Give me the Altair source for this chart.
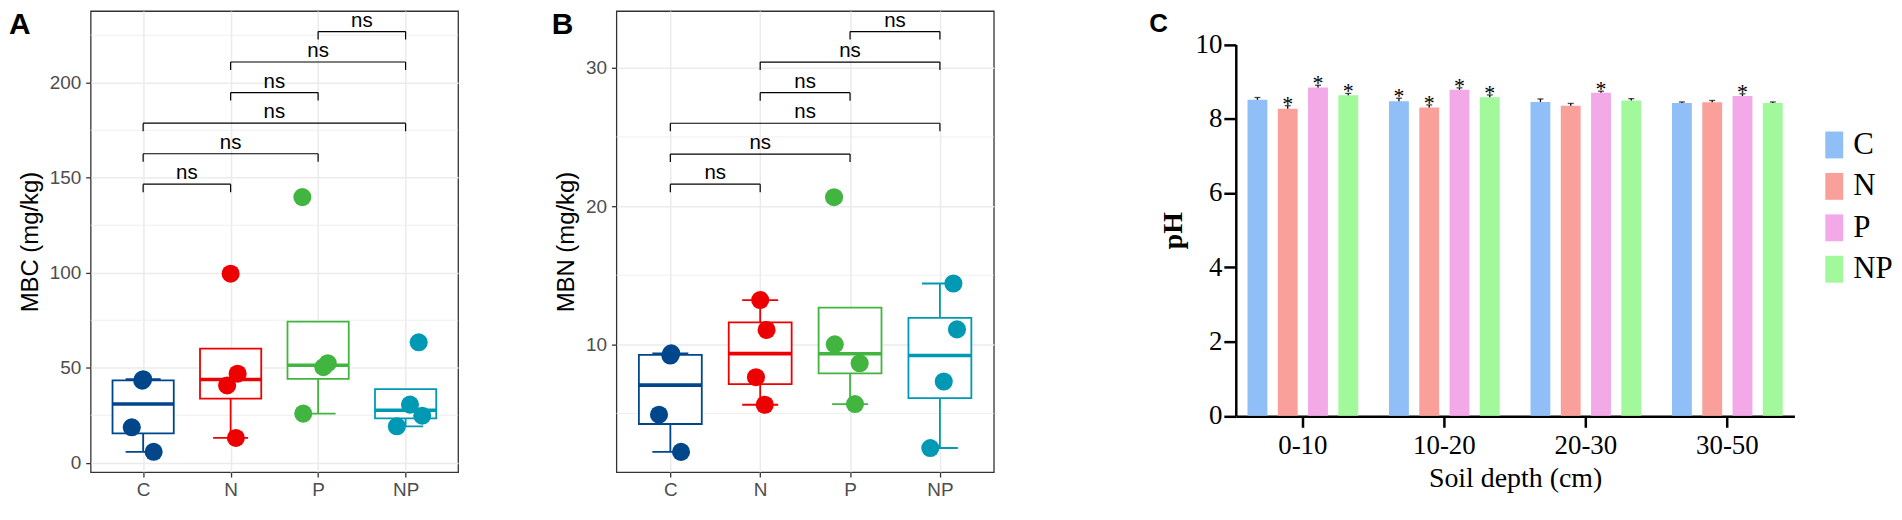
import altair as alt
import pandas as pd
import numpy as np

# ---------------- data ----------------
groups = ["C", "N", "P", "NP"]
lancet = ["#00468B", "#ED0000", "#42B540", "#0099B4"]

# Panel A: MBC (mg/kg)
mbc_C = [43.2, 44.0, 18.7, 5.8]
mbc_N = [99.5, 46.9, 40.7, 13.1]
mbc_P = [139.8, 52.4, 50.3, 25.9]
mbc_NP = [63.4, 30.6, 24.8, 19.2]
jit_mbc_C = [-0.01, 0.0, -0.13, 0.12]
jit_mbc_N = [0.0, 0.08, -0.04, 0.06]
jit_mbc_P = [-0.18, 0.11, 0.06, -0.17]
jit_mbc_NP = [0.15, 0.05, 0.19, -0.10]

# Panel B: MBN (mg/kg)
mbn_C = [9.19, 9.35, 4.91, 2.22]
mbn_N = [13.2, 11.04, 7.62, 5.63]
mbn_P = [20.64, 10.0, 8.63, 5.68]
mbn_NP = [14.4, 11.08, 7.31, 2.5]
jit_mbn_C = [0.0, 0.01, -0.126, 0.119]
jit_mbn_N = [0.0, 0.071, -0.047, 0.051]
jit_mbn_P = [-0.178, -0.17, 0.107, 0.055]
jit_mbn_NP = [0.15, 0.19, 0.043, -0.107]

pairs = [("C", "N"), ("C", "P"), ("C", "NP"), ("N", "P"), ("N", "NP"), ("P", "NP")]
pair_labels = ["ns", "ns", "ns", "ns", "ns", "ns"]
bracket_y_A = [146.6, 162.6, 178.7, 194.8, 210.9, 226.9]
bracket_y_B = [21.58, 23.76, 25.99, 28.20, 30.41, 32.62]

# Panel C: pH
depths = ["0-10", "10-20", "20-30", "30-50"]
ph_C = [8.51, 8.47, 8.45, 8.42]
ph_N = [8.27, 8.30, 8.35, 8.44]
ph_P = [8.84, 8.78, 8.70, 8.61]
ph_NP = [8.63, 8.58, 8.49, 8.42]
se_C = [0.06, 0.08, 0.08, 0.03]
se_N = [0.08, 0.07, 0.06, 0.05]
se_P = [0.06, 0.05, 0.04, 0.06]
se_NP = [0.05, 0.06, 0.05, 0.03]
sig_C = ["", "*", "", ""]
sig_N = ["*", "*", "", ""]
sig_P = ["*", "*", "*", "*"]
sig_NP = ["*", "*", "", ""]
bar_colors = ["#90BFF8", "#F9A09B", "#F3A9E8", "#A1F99C"]

SANS = "Liberation Sans"
SERIF = "Liberation Serif"
H = 463


def box_stats(vals):
    v = np.array(vals, dtype=float)
    q1, med, q3 = np.percentile(v, [25, 50, 75])
    iqr = q3 - q1
    lo = v[v >= q1 - 1.5 * iqr].min()
    hi = v[v <= q3 + 1.5 * iqr].max()
    return q1, med, q3, lo, hi


def panel(pts, jits, ydom, major, minor, bys, tip, ytitle, letter, letter_x,
          width, legend):
    recs, box = [], []
    for gi, g in enumerate(groups):
        for v, j in zip(pts[g], jits[g]):
            recs.append(dict(grp=g, xj=gi + 1 + j, val=v))
        q1, med, q3, lo, hi = box_stats(pts[g])
        p = gi + 1
        box.append(dict(grp=g, pos=p, left=p - 0.35, right=p + 0.35,
                        capl=p - 0.2, capr=p + 0.2,
                        q1=q1, med=med, q3=q3, lo=lo, hi=hi))
    pdf = pd.DataFrame(recs)
    bdf = pd.DataFrame(box)
    brs = []
    for (a, b), yb, lab in zip(pairs, bys, pair_labels):
        x1 = groups.index(a) + 1
        x2 = groups.index(b) + 1
        brs.append(dict(x1=x1, x2=x2, xm=(x1 + x2) / 2, yb=yb, yt=yb - tip, lab=lab))
    brdf = pd.DataFrame(brs)

    xs = alt.Scale(domain=[0.4, 4.6], nice=False, zero=False)
    ys = alt.Scale(domain=ydom, nice=False, zero=False)
    xax = alt.Axis(values=[1, 2, 3, 4],
                   labelExpr="['','C','N','P','NP'][datum.value]",
                   grid=True, gridColor="#EBEBEB", gridWidth=1.5,
                   domain=False, tickColor="#333333", tickSize=5, tickWidth=1.3,
                   labelFont=SANS, labelFontSize=19, labelColor="#4D4D4D",
                   labelPadding=4, title=None)
    yax = alt.Axis(values=major, grid=True, gridColor="#EBEBEB", gridWidth=1.5,
                   domain=False, tickColor="#333333", tickSize=5, tickWidth=1.3,
                   labelFont=SANS, labelFontSize=19, labelColor="#4D4D4D",
                   labelPadding=5, title=ytitle, titleFont=SANS,
                   titleFontSize=24, titleFontWeight="normal", titleColor="black",
                   titlePadding=7)

    def X(f):
        return alt.X(f, type="quantitative", scale=xs, axis=xax)

    def Y(f):
        return alt.Y(f, type="quantitative", scale=ys, axis=yax)

    stroke = alt.Stroke("grp:N", scale=alt.Scale(domain=groups, range=lancet),
                        legend=None)

    minor_l = alt.Chart(pd.DataFrame({"m": minor})).mark_rule(
        color="#EBEBEB", strokeWidth=0.8).encode(y=Y("m"))
    whisk = alt.Chart(bdf).mark_rule(strokeWidth=1.8).encode(
        x=X("pos"), y=Y("lo"), y2="hi", stroke=stroke)
    cap_lo = alt.Chart(bdf).mark_rule(strokeWidth=1.8).encode(
        x=X("capl"), x2="capr", y=Y("lo"), stroke=stroke)
    cap_hi = alt.Chart(bdf).mark_rule(strokeWidth=1.8).encode(
        x=X("capl"), x2="capr", y=Y("hi"), stroke=stroke)
    rect = alt.Chart(bdf).mark_rect(fill="white", strokeWidth=1.8).encode(
        x=X("left"), x2="right", y=Y("q1"), y2="q3", stroke=stroke)
    medl = alt.Chart(bdf).mark_rule(strokeWidth=3.6).encode(
        x=X("left"), x2="right", y=Y("med"), stroke=stroke)
    pts_l = alt.Chart(pdf).mark_circle(size=330, opacity=1).encode(
        x=X("xj"), y=Y("val"),
        color=alt.Color("grp:N", scale=alt.Scale(domain=groups, range=lancet),
                        legend=legend))
    br_h = alt.Chart(brdf).mark_rule(color="black", strokeWidth=1.2).encode(
        x=X("x1"), x2="x2", y=Y("yb"))
    br_l = alt.Chart(brdf).mark_rule(color="black", strokeWidth=1.2).encode(
        x=X("x1"), y=Y("yb"), y2="yt")
    br_r = alt.Chart(brdf).mark_rule(color="black", strokeWidth=1.2).encode(
        x=X("x2"), y=Y("yb"), y2="yt")
    ns = alt.Chart(brdf).mark_text(font=SANS, fontSize=20.5, color="black",
                                   baseline="alphabetic", dy=-5).encode(
        x=X("xm"), y=Y("yb"), text="lab:N")
    let = alt.Chart(pd.DataFrame({"t": [letter]})).mark_text(
        font=SANS, fontSize=30, fontWeight="bold", color="black",
        align="left", baseline="alphabetic").encode(
        x=alt.value(letter_x), y=alt.value(23), text="t:N")
    return alt.layer(minor_l, whisk, cap_lo, cap_hi, rect, medl, pts_l,
                     br_h, br_l, br_r, ns, let).properties(
        width=width, height=H,
        view=alt.ViewBackground(stroke="#333333", strokeWidth=1.3))


box_legend_path = (
    "M -0.97 -0.59 L 0.97 -0.59 L 0.97 0.59 L -0.97 0.59 Z "
    "M -0.83 -0.45 L -0.83 0.45 L 0.83 0.45 L 0.83 -0.45 Z "
    "M 0.62 0 A 0.62 0.62 0 1 1 -0.62 0 A 0.62 0.62 0 1 1 0.62 0 Z "
    "M -0.07 -1 L 0.07 -1 L 0.07 -0.59 L -0.07 -0.59 Z "
    "M -0.07 0.59 L 0.07 0.59 L 0.07 1 L -0.07 1 Z"
)

A = panel({"C": mbc_C, "N": mbc_N, "P": mbc_P, "NP": mbc_NP},
          {"C": jit_mbc_C, "N": jit_mbc_N, "P": jit_mbc_P, "NP": jit_mbc_NP},
          [-4.87, 237.7], [0, 50, 100, 150, 200], [25, 75, 125, 175, 225],
          bracket_y_A, 4.19, "MBC (mg/kg)", "A", -82, 369, None)

legB = alt.Legend(orient="none", legendX=415.5, legendY=181.5, title=None,
                  symbolType=box_legend_path, symbolSize=841,
                  symbolStrokeWidth=0, labelFont=SANS, labelFontSize=19,
                  labelColor="#1A1A1A", labelOffset=14.5, rowPadding=5.5,
                  padding=0)
B = panel({"C": mbn_C, "N": mbn_N, "P": mbn_P, "NP": mbn_NP},
          {"C": jit_mbn_C, "N": jit_mbn_N, "P": jit_mbn_P, "NP": jit_mbn_NP},
          [0.76, 34.105], [10, 20, 30], [5, 15, 25],
          bracket_y_B, 0.576, "MBN (mg/kg)", "B", -65, 379, legB)

# ---- panel C ----
rows = []
for g, ph, se, sg in zip(groups, [ph_C, ph_N, ph_P, ph_NP],
                         [se_C, se_N, se_P, se_NP],
                         [sig_C, sig_N, sig_P, sig_NP]):
    for d, v, s, t in zip(depths, ph, se, sg):
        rows.append(dict(depth=d, trt=g, ph=v, hi=v + s, sig=t))
cdf = pd.DataFrame(rows)

cx = alt.X("depth:N",
           scale=alt.Scale(domain=depths, range=[84, 645],
                           paddingInner=0.144, paddingOuter=0.046),
           axis=alt.Axis(domainColor="black", domainWidth=2.5,
                         tickColor="black", tickSize=11, tickWidth=2.5,
                         labelFont=SERIF, labelFontSize=27, labelColor="black",
                         labelPadding=5, labelAngle=0, offset=-56,
                         title="Soil depth (cm)", titleFont=SERIF,
                         titleFontSize=28, titleFontWeight="normal",
                         titleColor="black", titlePadding=6, grid=False))
cxo = alt.XOffset("trt:N", scale=alt.Scale(domain=groups, paddingInner=0.344,
                                           paddingOuter=0.172))
cy_scale = alt.Scale(domain=[0, 10], range=[406.5, 33.5], nice=False)
cy_axis = alt.Axis(values=[0, 2, 4, 6, 8, 10], domainColor="black",
                   domainWidth=2.5, tickColor="black", tickSize=12,
                   tickWidth=2.5, labelFont=SERIF, labelFontSize=27,
                   labelColor="black", labelPadding=2, offset=-84,
                   title="pH", titleFont=SERIF, titleFontSize=28,
                   titleFontWeight="bold", titleColor="black",
                   titlePadding=8, grid=False)

legC = alt.Legend(orient="none", legendX=669.5, legendY=119, title=None,
                  symbolType="M -0.667 -1 L 0.667 -1 L 0.667 1 L -0.667 1 Z",
                  symbolSize=729, symbolStrokeWidth=0, symbolOpacity=1,
                  labelFont=SERIF, labelFontSize=31, labelColor="black",
                  labelOffset=3.5, rowPadding=9.6, padding=0)

bars = alt.Chart(cdf).mark_bar().encode(
    x=cx, xOffset=cxo,
    y=alt.Y("ph:Q", scale=cy_scale, axis=cy_axis),
    color=alt.Color("trt:N", scale=alt.Scale(domain=groups, range=bar_colors),
                    legend=legC))
err = alt.Chart(cdf).mark_rule(color="black", strokeWidth=1.3).encode(
    x=cx, xOffset=cxo, y=alt.Y("ph:Q", scale=cy_scale, axis=cy_axis), y2="hi")
caps = alt.Chart(cdf).mark_tick(color="black", thickness=1.3, size=6).encode(
    x=cx, xOffset=cxo, y=alt.Y("hi:Q", scale=cy_scale, axis=cy_axis))
stars = alt.Chart(cdf).transform_filter("datum.sig != ''").mark_text(
    font=SERIF, fontSize=22, color="black", baseline="alphabetic", dy=5).encode(
    x=cx, xOffset=cxo, y=alt.Y("hi:Q", scale=cy_scale, axis=cy_axis),
    text="sig:N")
letC = alt.Chart(pd.DataFrame({"t": ["C"]})).mark_text(
    font=SANS, fontSize=26, fontWeight="bold", color="black", align="left",
    baseline="alphabetic").encode(x=alt.value(-3), y=alt.value(21.5), text="t:N")

Cc = alt.layer(bars, err, caps, stars, letC).properties(
    width=645, height=H, view=alt.ViewBackground(strokeWidth=0, stroke=None))

chart = alt.hconcat(A, B, Cc, spacing=159, bounds="flush").resolve_scale(
    color="independent", stroke="independent", xOffset="independent").properties(
    padding={"left": 0, "top": 0, "right": 0, "bottom": 0}
).configure_view(stroke=None).configure(font=SANS)

chart.save("out.html", embed_options={"renderer": "svg", "actions": False})
